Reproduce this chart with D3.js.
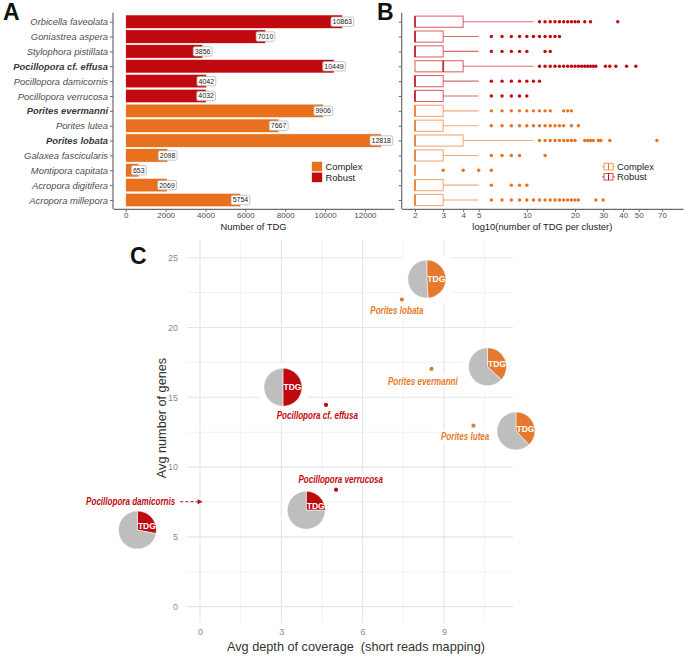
<!DOCTYPE html>
<html><head><meta charset="utf-8">
<script src="https://cdn.jsdelivr.net/npm/d3@7"></script>
<style>
body{margin:0;background:#fff}
svg{display:block}
text{font-family:"Liberation Sans",Arial,Helvetica,sans-serif}
</style>
</head><body>
<svg id="chart" width="685" height="656"></svg>
<script>
// ---------------- DATA ----------------
const species = ["Orbicella faveolata","Goniastrea aspera","Stylophora pistillata","Pocillopora cf. effusa","Pocillopora damicornis","Pocillopora verrucosa","Porites evermanni","Porites lutea","Porites lobata","Galaxea fascicularis","Montipora capitata","Acropora digitifera","Acropora millepora"];
const clade = ["Robust","Robust","Robust","Robust","Robust","Robust","Complex","Complex","Complex","Complex","Complex","Complex","Complex"];
const tdgCount = [10863,7010,3856,10449,4042,4032,9906,7667,12818,2098,653,2069,5754];
const boldSpecies = ["Pocillopora cf. effusa","Porites evermanni","Porites lobata"];
const tdgTicks = [0,2000,4000,6000,8000,10000,12000];

const boxQ1 = [2,2,2,2,2,2,2,2,2,2,2,2,2];
const boxMedian = [2,2,2,3,2,2,2,2,2,2,2,2,2];
const boxQ3 = [4,3,3,4,3,3,3,3,4,3,2,3,3];
const boxWhisker = [11,5,5,11,5,5,5,5,11,5,2,5,5];
const outliers = [
  [12,13,14,15,16,17,18,19,20,21,23,25,37],
  [6,7,8,9,10,11,12,13,14,15,16],
  [6,7,8,9,10,13,14],
  [12,13,14,15,16,17,18,19,20,21,22,23,24,25,26,27,31,33,36,42,48],
  [6,7,8,9,10,11,12],
  [6,7,8,9,10],
  [6,7,8,9,10,11,12,13,14,17,18,19],
  [6,7,8,9,10,11,12,13,14,15,16,17,19,21],
  [12,13,14,15,16,17,18,19,20,23,24,25,26,28,29,33,65],
  [6,7,8,9,13],
  [3,4,5,6],
  [6,8,9,10],
  [6,7,8,9,10,11,12,13,14,15,16,17,18,19,20,21,27,30]
];
const clusterTicks = [2,3,4,5,10,20,30,40,50,70];

const cSpecies = ["Porites lobata","Porites evermanni","Porites lutea","Pocillopora cf. effusa","Pocillopora verrucosa","Pocillopora damicornis"];
const cClade = ["Complex","Complex","Complex","Robust","Robust","Robust"];
const avgDepth = [7.45,8.54,10.09,4.65,5.02,0.06];
const avgGenes = [22.0,17.03,12.97,14.45,8.38,7.52];
const tdgShare = [0.49,0.37,0.38,0.5,0.25,0.28];
const pieDepth = [8.37,10.61,11.66,3.06,3.92,-2.31];
const pieGenes = [23.47,17.19,12.59,15.72,6.91,5.49];
const depthTicks = [0,3,6,9];
const depthMinor = [1.5,4.5,7.5,10.5];
const geneTicks = [0,5,10,15,20,25];
const geneMinor = [2.5,7.5,12.5,17.5,22.5];

// ---------------- STYLE ----------------
const col = {Robust:"#C00A10", Complex:"#E9711E"};
const colC = {Robust:"#BE0A10", Complex:"#E57A2F"};
const axisCol = "#6b6b6b", txtCol = "#4d4d4d";
const labelOff = {dx:[-5,-8.6,-8.3,-8.7,4.7,-71], dy:[11,12,11.3,10.7,-10.4,0]};
const narrow = 0.79;

const svg = d3.select("#chart");

// ================= PANEL A =================
const aMax = d3.max(tdgCount);
const xA = d3.scaleLinear().domain([-0.05*aMax, 1.05*aMax]).range([113, 394]);
const yRow = d3.scalePoint().domain(species).range([21.7, 200]);
const step = yRow.step();
const rowTop = yRow(species[0]) - 0.6*step, rowBot = yRow(species[species.length-1]) + 0.6*step;

const gA = svg.append("g");
gA.selectAll("rect.bar").data(species).join("rect")
  .attr("x", xA(0)).attr("y", d => yRow(d) - 0.45*step)
  .attr("width", (d,i) => xA(tdgCount[i]) - xA(0)).attr("height", 0.9*step)
  .attr("fill", (d,i) => col[clade[i]]).attr("stroke","#fff").attr("stroke-width",0.5);

// value labels
species.forEach((s,i) => {
  const g = gA.append("g").attr("transform", `translate(${xA(tdgCount[i])},${yRow(s)})`);
  const t = g.append("text").attr("text-anchor","middle").attr("dy","0.35em")
    .attr("font-size",7).attr("fill","#222").text(tdgCount[i]);
  const bb = t.node().getBBox();
  g.insert("rect","text").attr("x", bb.x-1.6).attr("y", -4.7).attr("width", bb.width+3.2).attr("height", 9.4)
    .attr("rx",1.5).attr("fill","#fff").attr("stroke","#aaa").attr("stroke-width",0.7);
});

// axes A
const axA = gA.append("g").attr("transform",`translate(0,${rowBot})`)
  .call(d3.axisBottom(xA).tickValues(tdgTicks).tickFormat(d3.format("d")).tickSize(3).tickPadding(0.5).tickSizeOuter(0));
axA.select(".domain").attr("stroke",axisCol).attr("stroke-width",1.2);
axA.selectAll(".tick line").attr("stroke",axisCol);
axA.selectAll(".tick text").attr("font-size",8).attr("fill",txtCol).attr("font-family",null);

const ayA = gA.append("g").attr("transform",`translate(113,0)`)
  .call(d3.axisLeft(yRow).tickSize(3).tickPadding(2));
ayA.select(".domain").remove();
ayA.append("line").attr("x1",0).attr("x2",0).attr("y1",rowTop).attr("y2",rowBot).attr("stroke",axisCol).attr("stroke-width",1.2);
ayA.selectAll(".tick line").attr("stroke",axisCol);
ayA.selectAll(".tick text").attr("font-size",9.4).attr("font-style","italic")
  .attr("font-family",null)
  .attr("font-weight", d => boldSpecies.includes(d) ? "bold" : "normal")
  .attr("fill", d => boldSpecies.includes(d) ? "#3a3a3a" : txtCol);

gA.append("text").attr("x",(xA.range()[0]+xA.range()[1])/2).attr("y",230).attr("text-anchor","middle")
  .attr("font-size",9.4).attr("fill","#222").text("Number of TDG");

// legend A
["Complex","Robust"].forEach((k,i) => {
  gA.append("rect").attr("x",311.7).attr("y",161.5 + i*10.7).attr("width",10.6).attr("height",10.2)
    .attr("fill",col[k]).attr("stroke","#fff").attr("stroke-width",0.5);
  gA.append("text").attr("x",325.5).attr("y",166.6 + i*10.7).attr("dy","0.35em")
    .attr("font-size",9.4).attr("fill","#222").text(k);
});

// ================= PANEL B =================
const xB = d3.scaleLog().domain([Math.pow(10,0.2179), Math.pow(10,1.976)]).range([401.7, 683]);
const gB = svg.append("g");
const bh = 0.75*step;
species.forEach((s,i) => {
  const y = yRow(s), c = col[clade[i]];
  gB.append("line").attr("x1",xB(boxQ3[i])).attr("x2",xB(boxWhisker[i])).attr("y1",y).attr("y2",y)
    .attr("stroke",c).attr("stroke-opacity",0.6).attr("stroke-width",1.1);
  gB.append("rect").attr("x",xB(boxQ1[i])).attr("y",y-bh/2).attr("width",xB(boxQ3[i])-xB(boxQ1[i])).attr("height",bh)
    .attr("fill","#fff").attr("stroke",c).attr("stroke-opacity",0.6).attr("stroke-width",1.1);
  gB.append("line").attr("x1",xB(boxMedian[i])).attr("x2",xB(boxMedian[i])).attr("y1",y-bh/2).attr("y2",y+bh/2)
    .attr("stroke",c).attr("stroke-opacity",0.85).attr("stroke-width",1.8);
  gB.selectAll(null).data(outliers[i]).join("circle")
    .attr("cx", d => xB(d)).attr("cy", y).attr("r",1.7).attr("fill",c);
});
const axB = gB.append("g").attr("transform",`translate(0,${rowBot})`)
  .call(d3.axisBottom(xB).tickValues(clusterTicks).tickFormat(d3.format("d")).tickSize(3).tickPadding(0.5).tickSizeOuter(0));
axB.select(".domain").attr("stroke",axisCol).attr("stroke-width",1.2);
axB.selectAll(".tick line").attr("stroke",axisCol);
axB.selectAll(".tick text").attr("font-size",8).attr("fill",txtCol).attr("font-family",null);
const ayB = gB.append("g").attr("transform",`translate(401.7,0)`)
  .call(d3.axisLeft(yRow).tickSize(3).tickFormat(""));
ayB.select(".domain").remove();
ayB.append("line").attr("y1",rowTop).attr("y2",rowBot).attr("stroke",axisCol).attr("stroke-width",1.2);
ayB.selectAll(".tick line").attr("stroke",axisCol);
gB.append("text").attr("x",(xB.range()[0]+xB.range()[1])/2).attr("y",230).attr("text-anchor","middle")
  .attr("font-size",9.4).attr("fill","#222").text("log10(number of TDG per cluster)");
// legend B
["Complex","Robust"].forEach((k,i) => {
  const y0 = 166.6 + i*10.2, c = col[k];
  gB.append("line").attr("x1",602).attr("x2",615).attr("y1",y0).attr("y2",y0).attr("stroke",c).attr("stroke-opacity",0.6);
  gB.append("rect").attr("x",604).attr("y",y0-3.3).attr("width",9).attr("height",6.6)
    .attr("fill","#fff").attr("stroke",c).attr("stroke-opacity",0.7).attr("stroke-width",1);
  gB.append("line").attr("x1",608.5).attr("x2",608.5).attr("y1",y0-3.3).attr("y2",y0+3.3).attr("stroke",c).attr("stroke-width",1);
  gB.append("text").attr("x",617).attr("y",y0).attr("dy","0.35em").attr("font-size",9.4).attr("fill","#222").text(k);
});

// ================= PANEL C =================
const xC = d3.scaleLinear().domain([-0.48, 11.55]).range([187, 513]);
const yC = d3.scaleLinear().domain([-1.15, 26.27]).range([622.7, 240]);
const gC = svg.append("g");
const [cx0,cx1] = xC.range(), [cy0,cy1] = yC.range();
// minor grid
gC.selectAll(null).data(depthMinor).join("line").attr("x1",d=>xC(d)).attr("x2",d=>xC(d)).attr("y1",cy0).attr("y2",cy1)
  .attr("stroke","#efefef").attr("stroke-width",0.8);
gC.selectAll(null).data(geneMinor).join("line").attr("y1",d=>yC(d)).attr("y2",d=>yC(d)).attr("x1",cx0).attr("x2",cx1)
  .attr("stroke","#efefef").attr("stroke-width",0.8);
// major grid
gC.selectAll(null).data(depthTicks).join("line").attr("x1",d=>xC(d)).attr("x2",d=>xC(d)).attr("y1",cy0).attr("y2",cy1)
  .attr("stroke","#e6e6e6").attr("stroke-width",1.1);
gC.selectAll(null).data(geneTicks).join("line").attr("y1",d=>yC(d)).attr("y2",d=>yC(d)).attr("x1",cx0).attr("x2",cx1)
  .attr("stroke","#e6e6e6").attr("stroke-width",1.1);

const axC = gC.append("g").attr("transform",`translate(0,${cy0})`)
  .call(d3.axisBottom(xC).tickValues(depthTicks).tickSize(0).tickPadding(6));
axC.select(".domain").remove();
axC.selectAll(".tick text").attr("font-size",9).attr("fill","#8a8a8a").attr("font-family",null);
const ayC = gC.append("g").attr("transform",`translate(${cx0},0)`)
  .call(d3.axisLeft(yC).tickValues(geneTicks).tickSize(0).tickPadding(9));
ayC.select(".domain").remove();
ayC.selectAll(".tick text").attr("font-size",9).attr("fill","#8a8a8a").attr("font-family",null);

gC.append("text").attr("x",356).attr("y",651).attr("text-anchor","middle").attr("font-size",12.7)
  .style("white-space","pre").attr("fill","#333").text("Avg depth of coverage  (short reads mapping)");
gC.append("text").attr("transform","translate(166,418) rotate(-90)").attr("text-anchor","middle")
  .attr("font-size",12.7).attr("fill","#333").text("Avg number of genes");

// pies
const R = 19;
const arc = d3.arc().innerRadius(0).outerRadius(R);
cSpecies.forEach((s,i) => {
  const g = gC.append("g").attr("transform",`translate(${xC(pieDepth[i])},${yC(pieGenes[i])})`);
  g.append("rect").attr("x",-24).attr("y",-24).attr("width",48).attr("height",48).attr("fill","#fff");
  const arcs = d3.pie().sort(null).value(d=>d)([tdgShare[i], 1-tdgShare[i]]);
  g.selectAll("path").data(arcs).join("path").attr("d",arc)
    .attr("fill",(d,j)=> j===0 ? colC[cClade[i]] : "#BEBEBE").attr("stroke","#fff").attr("stroke-width",0.5);
  const mid = tdgShare[i]*Math.PI;
  g.append("text").attr("x",0.5*R).attr("y",-0.32*R*Math.cos(mid)).attr("dy","0.35em").attr("text-anchor","middle")
    .attr("font-size",8.5).attr("font-weight","bold").attr("fill","#fff").text("TDG");
});

// points + labels
cSpecies.forEach((s,i) => {
  const px = xC(avgDepth[i]), py = yC(avgGenes[i]), c = colC[cClade[i]];
  const lx = px + labelOff.dx[i], ly = py + labelOff.dy[i];
  const g = gC.append("g").attr("transform",`translate(${lx},${ly}) scale(${narrow},1)`);
  const t = g.append("text").attr("x",0).attr("y",0).attr("dy","0.35em").attr("text-anchor","middle")
    .attr("font-size",10.2).attr("font-style","italic").attr("font-weight","bold").attr("fill",c).text(s);
  const bb = t.node().getBBox();
  g.insert("rect","text").attr("x",bb.x-3).attr("y",bb.y-1).attr("width",bb.width+6).attr("height",bb.height+2).attr("fill","#fff");
  if (i === cSpecies.length-1) {
    const x1 = lx + (bb.x + bb.width)*narrow + 5;
    gC.append("line").attr("x1",x1).attr("x2",px-3).attr("y1",py).attr("y2",py)
      .attr("stroke",c).attr("stroke-width",1.1).attr("stroke-dasharray","3,2.2");
    gC.append("path").attr("d",`M${px+1},${py} L${px-4},${py-2.5} L${px-4},${py+2.5} Z`).attr("fill",c);
  } else {
    gC.append("circle").attr("cx",px).attr("cy",py).attr("r",2.1).attr("fill",c);
  }
});

// panel letters
[["A",3,20],["B",377,20],["C",130,264]].forEach(([t,x,y]) => {
  svg.append("text").attr("x",x).attr("y",y).attr("font-family",'"Open Sans",sans-serif')
    .attr("font-weight",700).attr("font-size",23).attr("fill","#111").text(t);
});
</script>
</body></html>
